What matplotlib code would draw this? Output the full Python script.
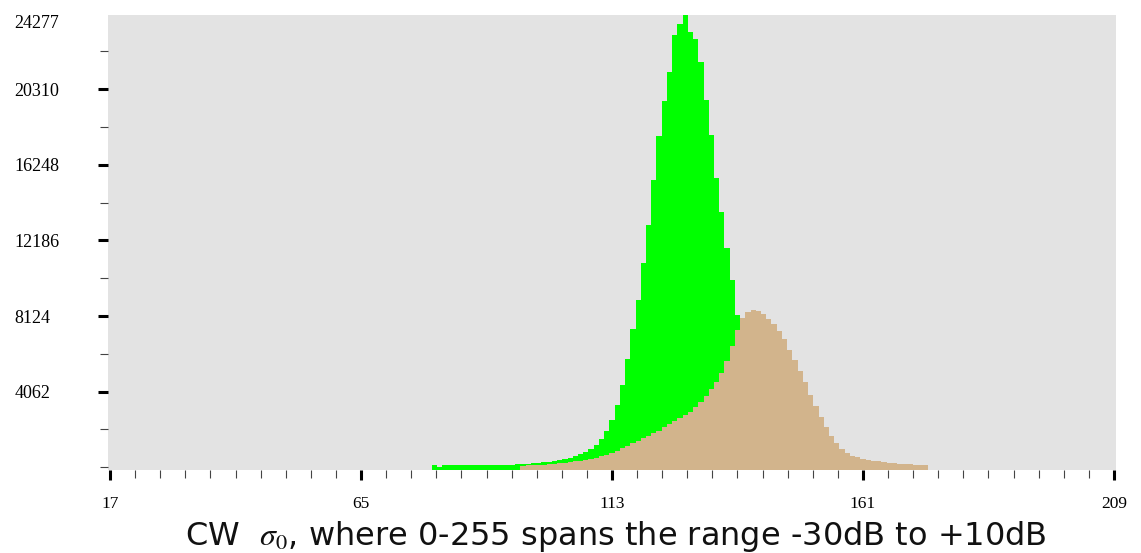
import numpy as np
import matplotlib.pyplot as plt

# histogram of the two classes, one count per grey level
green_start = 79
green_counts = [100, 0, 100, 100, 100, 105, 107, 107, 110, 110,
                115, 120, 125, 130, 140, 150, 160, 170, 190, 215,
                240, 270, 300, 350, 400, 455, 510, 590, 700, 830,
                970, 1180, 1500, 1930, 2520, 3330, 4400, 5800, 7410, 8970,
                10960, 13000, 15410, 17780, 19690, 21250, 23220, 23810, 24277, 23400,
                22990, 21780, 19730, 17850, 15540, 13710, 11780, 10060, 8160, 6400,
                5000, 3800, 2700, 1900, 1300, 900, 600, 400, 250, 150, 100]

tan_start = 96
tan_counts = [80, 107, 118, 134, 150, 161, 188, 215, 242, 269,
              312, 349, 403, 457, 510, 591, 671, 779, 886, 1020,
              1155, 1289, 1423, 1558, 1692, 1826, 1960, 2148, 2310, 2471,
              2632, 2793, 2954, 3223, 3491, 3813, 4189, 4565, 5049, 5693,
              6499, 7358, 8003, 8325, 8432, 8379, 8218, 7949, 7681, 7305,
              6875, 6284, 5747, 5156, 4565, 3867, 3276, 2686, 2148, 1665,
              1289, 967, 752, 618, 537, 457, 403, 349, 322, 269,
              242, 215, 188, 172, 161, 150, 134, 118]

y_major = [4062, 8124, 12186, 16248, 20310, 24277]
y_minor = [0, 2031, 6093, 10155, 14217, 18279, 22341]
x_major = [17, 65, 113, 161, 209]
xlabel = r'CW  $\sigma_{0}$, where 0-255 spans the range -30dB to +10dB'

plt.rcParams['mathtext.fontset'] = 'stix'

W, H = 1141, 553
fig = plt.figure(figsize=(W / 100, H / 100), dpi=100)
ax = fig.add_axes([108 / W, 83 / H, (1116 - 108) / W, (470 - 15.3) / H])
ax.set_facecolor('#e3e3e3')
for s in ax.spines.values():
    s.set_visible(False)

y_floor = -145
g_edges = np.arange(len(green_counts) + 1) + green_start - 0.5
t_edges = np.arange(len(tan_counts) + 1) + tan_start - 0.5
ax.stairs(green_counts, g_edges, fill=True, color='#00ff00', baseline=y_floor)
ax.stairs(tan_counts, t_edges, fill=True, color='#d2b48c', baseline=y_floor)

ax.set_xlim(17 - 2 / 5.226, 209 + 2 / 5.226)
ax.set_ylim(y_floor, 24277)

# x ticks: majors every 48, ten subdivisions between them
ax.set_xticks(x_major)
ax.set_xticklabels([str(v) for v in x_major], family='Liberation Serif', fontsize=12.5)
ax.set_xticks([17 + 4.8 * k for k in range(41) if k % 10 != 0], minor=True)
ax.tick_params(axis='x', which='major', length=7.5, width=2.2, color='black', pad=11)
ax.tick_params(axis='x', which='minor', length=5.5, width=0.8, color='#444444')

# y ticks, labels flush left near the figure edge
ax.set_yticks(y_major)
ax.set_yticklabels([str(v) for v in y_major], family='Liberation Serif', fontsize=13,
                   ha='left')
ax.set_yticks(y_minor, minor=True)
ax.tick_params(axis='y', which='major', length=7.5, width=2.2, color='black', pad=60)
ax.tick_params(axis='y', which='minor', length=5.5, width=0.8, color='#444444')
top = ax.yaxis.get_major_ticks()[-1]
top.tick1line.set_visible(False)
top.label1.set_va('top')

fig.text(616 / W, 1 - 536 / H, xlabel, ha='center', va='center',
         family=['DejaVu Sans'], fontsize=23, color='#111111')

fig.savefig('out.png', dpi=100)
